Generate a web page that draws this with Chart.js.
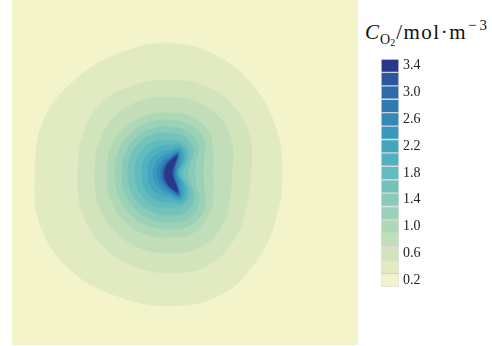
<!DOCTYPE html>
<html><head><meta charset="utf-8">
<script src="https://cdn.jsdelivr.net/npm/chart.js@4.4.1/dist/chart.umd.min.js"></script>
<style>
html,body{margin:0;padding:0;background:#fff;}
body{width:492px;height:346px;position:relative;overflow:hidden;font-family:"Liberation Serif",serif;}
#plotBox{position:absolute;left:12px;top:0px;width:346px;height:345px;background:#f3f4c9;}
#plotCanvas{position:absolute;left:0;top:1px;}
#cbTitle{position:absolute;left:365px;top:20px;font-size:21px;white-space:nowrap;color:#111;line-height:24px;letter-spacing:1.5px;}
#cbTitle i{letter-spacing:0;}
#cbTitle .sb{font-size:14px;position:relative;top:5px;letter-spacing:0;margin-left:1px;margin-right:1px;}
#cbTitle .sb .sb2{font-size:10px;position:relative;top:2px;}
#cbTitle .sp{font-size:15px;position:relative;top:-9px;letter-spacing:3px;margin-left:1px;}
#cbBox{position:absolute;left:381px;top:46px;}
</style></head>
<body>
<div id="plotBox"><canvas id="plotCanvas" width="346" height="344"></canvas></div>
<div id="cbTitle"><i>C</i><span class="sb">O<span class="sb2">2</span></span>/mol·m<span class="sp">−3</span></div>
<div id="cbBox"><canvas id="cbCanvas" width="60" height="254"></canvas></div>
<script>
// ---- data ----
// contour levels (mol·m^-3); each contour encloses the region above its level
const levels = [0.3,0.5,0.7,0.9,1.1,1.3,1.5,1.7,1.9,2.1,2.3,2.5,2.7,2.9,3.1,3.3];
// direction of each radius sample, clockwise from "up"
const angleLabels = ['0°','22.5°','45°','67.5°','90°','112.5°','135°','157.5°','180°','202.5°','225°','247.5°','270°','292.5°','315°','337.5°'];
const r03 = [130,126,120,115,112,115,123,132,133,134,139,140,135,137,133,130];
const r05 = [93,94,92,87,81,83,92,100,100,100,99,96,92,95,98,95];
const r07 = [76,76,74,68,62,65,74,80,80,81,80,78,75,77,79,78];
const r09 = [60,60,56,47,43,47,56,64,64,66,66,65,63,64,64,62];
const r11 = [53,52,48,37,33,37,49,56,56,57,57,56,55,56,56,55];
const r13 = [46,45,40,28,25,28,41,49,49,50,50,49,48,49,49,48];
const r15 = [40,39,33,21,18,21,34,42,42,43,43,43,42,43,43,42];
const r17 = [33,33,27,16,13,16,28,35,35,36,36,36,35,36,36,35];
const r19 = [28,30,23,12,10,12,24,32,29,30,30,29,28,29,29,29];
const r21 = [23,27,19,10,8,10,20,29,24,24,24,23,22,23,23,23];
const r23 = [20,25,15,8,7,8,15,27,21,19.5,18,17.5,17,17.2,17.5,18.5];
const r25 = [17,23,11,7,6,7,11,25,19,16,14.5,13.5,13,13.2,14,15];
const r27 = [15,22,8,5.5,5,5.5,8,24,17,13.5,11.5,10.5,10,10.2,11,13];
const r29 = [13.5,21,6,4.5,4,4.5,6,23,15.5,11.5,9.5,8.5,8,8.2,9,11];
const r31 = [12.5,19.5,4.5,3.3,3,3.3,4.5,21.5,14.5,10.5,8.3,7,6.7,6.8,7.7,9.5];
const r33 = [11.7,18,3.1,2.2,2,2.2,3.1,20,13.7,9.5,7.1,5.9,5.5,5.6,6.5,8.3];
const contourRadii = [r03,r05,r07,r09,r11,r13,r15,r17,r19,r21,r23,r25,r27,r29,r31,r33];
const radiusMax = 158; // μm, radial extent mapped to the left half width of the region

// colour bar
const bandLow  = [0.1,0.3,0.5,0.7,0.9,1.1,1.3,1.5,1.7,1.9,2.1,2.3,2.5,2.7,2.9,3.1,3.3];
const bandHigh = [0.3,0.5,0.7,0.9,1.1,1.3,1.5,1.7,1.9,2.1,2.3,2.5,2.7,2.9,3.1,3.3,3.5];
const bandColors = ['#f3f4c9','#e2eac2','#d2e4bc','#c1deb8','#aed8b6','#9bd2b7','#88cbb8','#74c3ba',
  '#62bbbd','#52b1be','#44a5bf','#3998bd','#328ab9','#2e7bb3','#2d6bab','#2c57a0','#2b378a'];
const tickValues = [0.2,0.6,1.0,1.4,1.8,2.2,2.6,3.0,3.4];

// ---- contour map ----
const contourSets = levels.map((lv, i) => ({
  label: 'C > ' + lv,
  data: contourRadii[i],
  backgroundColor: bandColors[i + 1],
  borderColor: bandColors[i + 1],
  borderWidth: 0.5,
  fill: true,
  pointRadius: 0,
  pointHoverRadius: 0,
  tension: i >= 10 ? 0.35 : 0.4,
  order: -i
}));

new Chart(document.getElementById('plotCanvas'), {
  type: 'radar',
  data: { labels: angleLabels, datasets: contourSets },
  options: {
    responsive: false,
    animation: false,
    events: [],
    layout: { padding: { left: 0, right: 30, top: 0, bottom: 0 } },
    plugins: { legend: { display: false }, tooltip: { enabled: false } },
    scales: {
      r: { display: false, min: 0, max: radiusMax, startAngle: 0 }
    }
  }
});

// ---- colour bar ----
const cbSets = bandLow.map((lo, i) => ({
  label: lo + '–' + bandHigh[i],
  data: [[lo, bandHigh[i]]],
  backgroundColor: bandColors[i],
  borderColor: 'rgba(110,110,110,0.22)',
  borderWidth: 1,
  borderSkipped: false,
  grouped: false,
  barPercentage: 1,
  categoryPercentage: 1
}));

new Chart(document.getElementById('cbCanvas'), {
  type: 'bar',
  data: { labels: ['C'], datasets: cbSets },
  options: {
    responsive: false,
    animation: false,
    events: [],
    layout: { padding: { left: 0, right: 0, top: 13, bottom: 13 } },
    plugins: { legend: { display: false }, tooltip: { enabled: false } },
    scales: {
      x: { display: false },
      y: {
        position: 'right',
        min: bandLow[0],
        max: bandHigh[bandHigh.length - 1],
        grid: { display: false, drawTicks: false },
        border: { display: false },
        afterBuildTicks: s => { s.ticks = tickValues.map(v => ({ value: v })); },
        afterFit: s => { s.width = 42; },
        ticks: {
          padding: 4,
          color: '#222',
          font: { family: '"Liberation Serif", serif', size: 14 },
          callback: v => Number(v).toFixed(1)
        }
      }
    }
  }
});
</script>
</body></html>
